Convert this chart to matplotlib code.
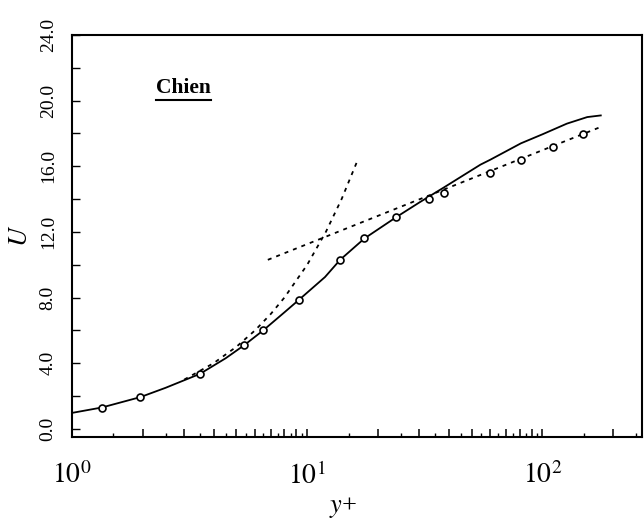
import matplotlib
matplotlib.use("Agg")
import matplotlib.pyplot as plt
from matplotlib.ticker import FixedLocator, FuncFormatter
from matplotlib.lines import Line2D

plt.rcParams['font.family'] = 'serif'
plt.rcParams['font.serif'] = ['Liberation Serif', 'DejaVu Serif']
plt.rcParams['mathtext.fontset'] = 'stix'

# Chien model profile (solid)
model_yplus = [1.0, 1.34, 1.95, 2.5, 3.5, 4.5, 5.4, 6.5, 8.0, 9.2, 11.9, 13.8, 17.5,
               23.9, 30.0, 38.0, 54.5, 60.0, 81.0, 100.0, 127.0, 155.0, 177.0]
model_U = [0.97, 1.3, 1.93, 2.5, 3.35, 4.3, 5.1, 6.0, 7.1, 7.85, 9.25, 10.3, 11.6,
           12.9, 13.8, 14.7, 16.1, 16.4, 17.4, 17.95, 18.6, 19.0, 19.1]

# DNS data (open circles)
data_yplus = [1.34, 1.95, 3.5, 5.4, 6.5, 9.2, 13.8, 17.5, 23.9, 33.0, 38.3, 60.0, 81.4, 111.0, 149.0]
data_U = [1.29, 1.93, 3.34, 5.09, 6.03, 7.85, 10.3, 11.6, 12.9, 14.0, 14.4, 15.6, 16.4, 17.2, 17.97]

# viscous sublayer U = y+ (dotted)
visc_yplus = [3.0, 4.0, 5.0, 6.0, 7.0, 8.0, 10.0, 12.0, 14.0, 16.3]
visc_U = [3.0, 4.0, 5.0, 6.0, 7.0, 8.0, 10.0, 12.0, 14.0, 16.3]

# log law (dotted)
log_yplus = [6.8, 177.0]
log_U = [10.3, 18.4]

x_ticklabels = {1: r'$10^{0}$', 10: r'$10^{1}$', 100: r'$10^{2}$'}
y_ticks = [0, 4, 8, 12, 16, 20, 24]
y_ticklabels = ['0.0', '4.0', '8.0', '12.0', '16.0', '20.0', '24.0']

fig = plt.figure(figsize=(6.44, 5.23), dpi=100)
ax = fig.add_axes([0.1118, 0.1644, 0.8851, 0.7686])

dot = (0, (2.2, 2.8))
ax.plot(visc_yplus, visc_U, color='black', lw=1.3, linestyle=dot)
ax.plot(log_yplus, log_U, color='black', lw=1.3, linestyle=dot)
ax.plot(model_yplus, model_U, color='black', lw=1.3, linestyle='-')
ax.plot(data_yplus, data_U, linestyle='none', marker='o', markersize=5,
        markerfacecolor='white', markeredgecolor='black', markeredgewidth=1.2)

ax.set_xscale('log')
ax.set_xlim(1.0, 265)
ax.set_ylim(-0.5, 24)

maj = [m * d for d in (1, 10, 100) for m in range(1, 10) if m * d <= 265]
mnr = [(m + 0.5) * d for d in (1, 10, 100) for m in range(1, 10) if (m + 0.5) * d <= 265]
ax.xaxis.set_major_locator(FixedLocator(maj))
ax.xaxis.set_minor_locator(FixedLocator(mnr))
ax.xaxis.set_major_formatter(FuncFormatter(lambda v, p: x_ticklabels.get(int(round(v)), '') if round(v) in (1, 10, 100) else ''))
ax.xaxis.set_minor_formatter(FuncFormatter(lambda v, p: ''))

ax.set_yticks(y_ticks)
ax.set_yticklabels(y_ticklabels, rotation=90, va='center')
ax.yaxis.set_minor_locator(FixedLocator([2, 6, 10, 14, 18, 22]))

ax.tick_params(axis='x', which='major', direction='in', length=6, width=1.1,
               top=False, labelsize=20, pad=18)
ax.tick_params(axis='x', which='minor', direction='in', length=3, width=1.0, top=False)
ax.tick_params(axis='y', which='both', direction='in', length=6, width=1.0,
               right=False, labelsize=14, pad=11)

for s in ax.spines.values():
    s.set_linewidth(1.5)

ax.set_ylabel(r'$U$', fontsize=19)
ax.yaxis.set_label_coords(-0.07, 0.5)
ax.set_xlabel(r'$y$+', fontsize=19)
ax.xaxis.set_label_coords(0.475, -0.145)

t = ax.text(0.195, 0.868, 'Chien', transform=ax.transAxes, fontsize=15.5,
            fontweight='bold', ha='center', va='center')

fig.canvas.draw()
bb = t.get_window_extent().transformed(ax.transAxes.inverted())
ax.add_line(Line2D([bb.x0, bb.x1], [bb.y0 - 0.004, bb.y0 - 0.004],
                   transform=ax.transAxes, color='black', lw=1.5))

fig.savefig('out.png', dpi=100)
